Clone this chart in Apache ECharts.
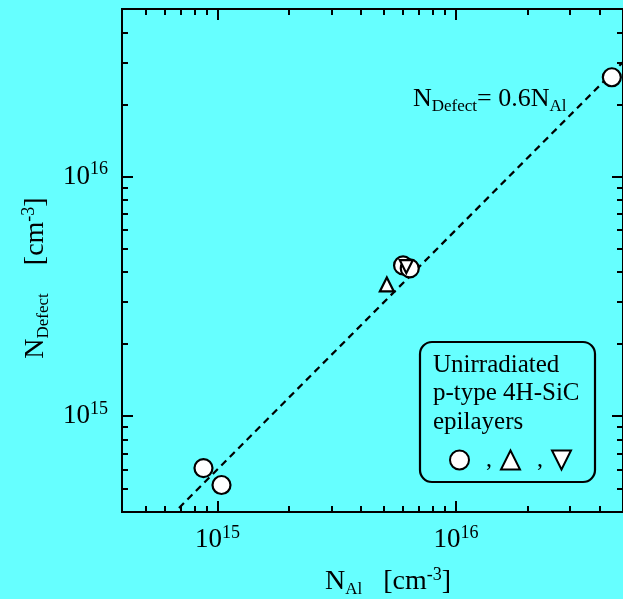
<!DOCTYPE html>
<html><head><meta charset="utf-8">
<script src="https://cdn.jsdelivr.net/npm/echarts@6/dist/echarts.min.js"></script>
<style>html,body{margin:0;padding:0;background:#66ffff}#c{width:623px;height:599px}</style>
</head><body><div id="c"></div>
<script>
// ---- data ----
const circlePoints = [[8.74e14, 6.07e14], [1.04e15, 5.16e14], [6.0e15, 4.26e15], [6.4e15, 4.14e15], [4.5e16, 2.6e16]];
const upTrianglePoints = [[5.13e15, 3.55e15]];
const downTrianglePoints = [[6.19e15, 4.21e15]];
const fitRatio = 0.6;
const fitXRange = [6.9e14, 6e16];
const axisExpRange = [14.6, 16.7];
const majorTickExps = [15, 16];
const minorTickMantissas = [2, 3, 4, 5, 6, 7, 8, 9];
const legendLines = ['Unirradiated', 'p-type 4H-SiC', 'epilayers'];
const fitLabel = 'N{sub|Defect}= 0.6N{sub|Al}';
const xTitle = 'N{sub|Al}   [cm{sup|-3}]';
const yTitle = 'N{sub|Defect}    [cm{sup|-3}]';

// ---- build ----
const FONT = "'Liberation Serif','Times New Roman',serif";
const BG = '#66ffff';
const minorTickExps = [];
for (let e = 14; e <= 16; e++) {
  minorTickMantissas.forEach(m => {
    const v = e + Math.log10(m);
    if (v > axisExpRange[0] + 0.01 && v < axisExpRange[1] - 0.01) minorTickExps.push(v);
  });
}
const fitLine = fitXRange.map(x => [x, fitRatio * x]);
const LMIN = Math.pow(10, axisExpRange[0]), LMAX = Math.pow(10, axisExpRange[1]);
const DOWN_TRI = 'path://M0,0 L10,0 L5,10 Z';

const supRich = {
  sup: { fontSize: 18, lineHeight: 10, verticalAlign: 'top', fontFamily: FONT, color: '#000' },
  sub: { fontSize: 17, lineHeight: 17, verticalAlign: 'bottom', fontFamily: FONT, color: '#000' }
};

function decoAxis(pos, values, len, showLabel, isX) {
  return {
    type: 'value', gridIndex: 0, position: pos,
    min: axisExpRange[0], max: axisExpRange[1],
    axisLine: { show: true, onZero: false, lineStyle: { color: '#000', width: 2 } },
    axisTick: { show: true, inside: true, length: len, customValues: values, lineStyle: { color: '#000', width: 2 } },
    axisLabel: {
      show: showLabel, customValues: values, margin: isX ? 12 : 14,
      fontFamily: FONT, fontSize: 27, lineHeight: 32, color: '#000',
      formatter: v => '10{sup|' + Math.round(v) + '}',
      rich: supRich
    },
    splitLine: { show: false }
  };
}

const markerStyle = { color: '#fff', borderColor: '#000', borderWidth: 2.2, opacity: 1 };

const chart = echarts.init(document.getElementById('c'), null, { renderer: 'canvas' });
chart.setOption({
  backgroundColor: BG,
  animation: false,
  grid: { left: 122, right: -2, top: 9, bottom: 87, show: false },
  xAxis: [
    { type: 'log', gridIndex: 0, min: LMIN, max: LMAX, show: false },
    decoAxis('bottom', majorTickExps, 11, true, true),
    decoAxis('bottom', minorTickExps, 6, false, true),
    decoAxis('top', majorTickExps, 11, false, true),
    decoAxis('top', minorTickExps, 6, false, true)
  ],
  yAxis: [
    { type: 'log', gridIndex: 0, min: LMIN, max: LMAX, show: false },
    decoAxis('left', majorTickExps, 11, true, false),
    decoAxis('left', minorTickExps, 6, false, false),
    decoAxis('right', majorTickExps, 11, false, false),
    decoAxis('right', minorTickExps, 6, false, false)
  ],
  legend: {
    z: 20, padding: 0,
    left: 449, top: 448, itemWidth: 19, itemHeight: 19, itemGap: 8,
    selectedMode: false,
    data: [
      { name: 'circle', icon: 'circle' },
      { name: 'up', icon: 'triangle', itemWidth: 17 },
      { name: 'down', icon: DOWN_TRI }
    ],
    formatter: n => n === 'down' ? '' : '  ,',
    textStyle: { fontFamily: FONT, fontSize: 24, color: '#000' }
  },
  series: [
    {
      type: 'line', name: 'fit', xAxisIndex: 0, yAxisIndex: 0, data: fitLine,
      symbol: 'none', clip: true, z: 1,
      lineStyle: { color: '#000', width: 2.2, type: [7, 5] }
    },
    {
      type: 'scatter', name: 'circle', xAxisIndex: 0, yAxisIndex: 0, data: circlePoints,
      symbol: 'circle', symbolSize: 18, z: 3, itemStyle: markerStyle
    },
    {
      type: 'scatter', name: 'up', xAxisIndex: 0, yAxisIndex: 0, data: upTrianglePoints,
      symbol: 'triangle', symbolSize: 14, z: 3, itemStyle: markerStyle
    },
    {
      type: 'scatter', name: 'down', xAxisIndex: 0, yAxisIndex: 0, data: downTrianglePoints,
      symbol: DOWN_TRI, symbolSize: 13, z: 4, itemStyle: markerStyle
    }
  ],
  graphic: [
    {
      type: 'text', x: 413, y: 99, z: 10,
      style: { text: fitLabel, fontFamily: FONT, fontSize: 26, lineHeight: 32, fill: '#000',
        align: 'left', verticalAlign: 'middle', rich: supRich }
    },
    {
      type: 'text', x: 388, y: 582, z: 10,
      style: { text: xTitle, fontFamily: FONT, fontSize: 28, lineHeight: 32, fill: '#000',
        align: 'center', verticalAlign: 'middle', rich: supRich }
    },
    {
      type: 'text', x: 36, y: 278, rotation: Math.PI / 2, z: 10,
      style: { text: yTitle, fontFamily: FONT, fontSize: 28, lineHeight: 32, fill: '#000',
        align: 'center', verticalAlign: 'middle', rich: supRich }
    },
    {
      type: 'rect', z: 1,
      shape: { x: 420, y: 342, width: 175, height: 140, r: 12 },
      style: { fill: BG, stroke: '#000', lineWidth: 2.2 }
    },
    {
      type: 'text', x: 433, y: 351, z: 2,
      style: { text: legendLines.join('\n'), fontFamily: FONT, fontSize: 25, lineHeight: 28.5,
        fill: '#000', align: 'left', verticalAlign: 'top' }
    }
  ]
});
</script></body></html>
